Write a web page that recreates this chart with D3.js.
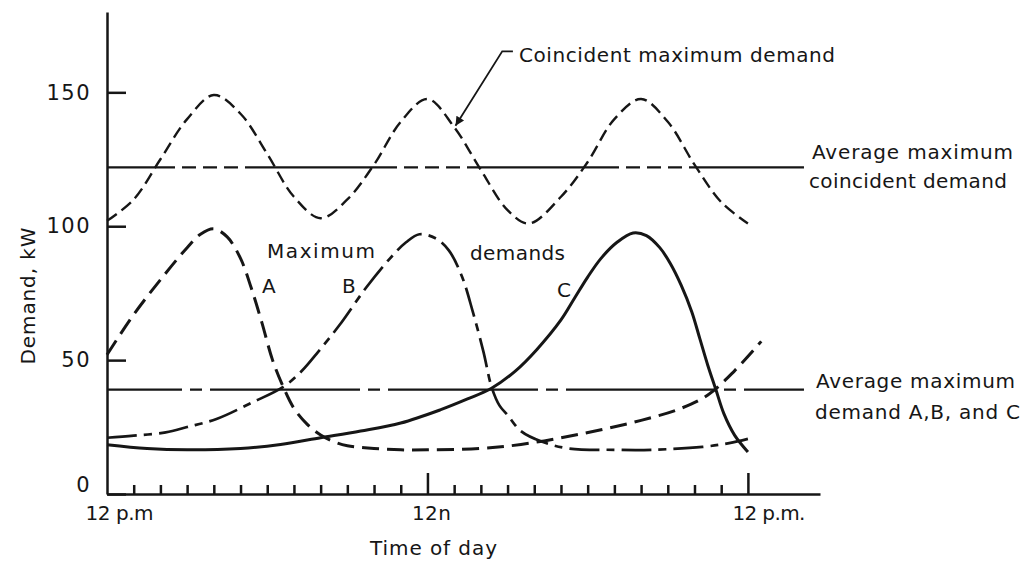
<!DOCTYPE html>
<html>
<head>
<meta charset="utf-8">
<script src="https://cdn.jsdelivr.net/npm/d3@7"></script>
<style>
  body { margin: 0; background: #fff; }
  text { font-family: "DejaVu Sans", sans-serif; fill: #161616; }
  .axis path, .axis line { stroke: #161616; stroke-width: 2.5; }
</style>
</head>
<body>
<div class="chart"></div>
<script>
// hours after 12 p.m. (0..24), demand in kW
const coincidentDemand = [[0,102],[1,110],[2,125],[3,140],[4,149],[5,142],[6,127],[7,111],[8,103],[9,110],[10,123],[11,139],[12,147.5],[13,137],[14,121],[15,106],[15.8,101],[17,111],[18,124],[19,140],[20,147.5],[21,139],[22,123],[23,109],[24,101]];
const demandA = [[0,52],[1,67],[2,80],[3,92],[3.5,97],[4,99],[4.5,96],[5,88],[5.4,77],[5.8,64],[6.2,50],[6.6,40],[7,32],[7.5,26],[8,22],[8.5,19.5],[9,18],[10,17],[11,16.5],[12,16.5],[14,17],[15.5,18.5],[17,21],[18.5,24],[20,27.5],[21.5,32],[22.5,37],[23.5,46],[24.5,57]];
const demandB = [[0,21],[1,21.8],[2.2,23],[3,25],[4.1,28],[5.4,34],[6.6,40],[7.3,46],[7.9,53],[8.7,63],[9.7,77],[10.6,88],[11.2,94],[11.7,97],[12.3,95.5],[12.8,91],[13.3,81],[13.7,68],[14.1,53],[14.4,40],[14.7,33],[15,29.5],[15.5,23.5],[16.3,19.5],[17.3,17],[19,16.5],[20.4,16.5],[22.3,17.6],[23.3,19],[24,20.6]];
const demandC = [[0,18.4],[1.5,17],[3,16.5],[5,17],[6.5,18.5],[8,21],[9.5,23.5],[11,26.5],[12.5,31.5],[13.5,35.5],[14.4,39.5],[15.3,46],[16.1,54],[17,65],[17.5,73],[18,81],[18.5,88],[19.1,94],[19.7,97.5],[20.2,96.5],[20.7,92],[21.1,86],[21.5,78],[21.9,68],[22.2,58],[22.5,48],[22.8,39],[23.1,30],[23.5,22],[24,15.7]];

const avgCoincident = 122;
const avgIndividual = 39;
const avgLineEnd = 26.1;

const yTicks = [0, 50, 100, 150];
const majorHours = [0, 12, 24];
const timeLabels = ['12 p.m', '12n', '12 p.m.'];
const minorHours = [1,2,3,4,5,6,7,8,9,10,11,13,14,15,16,17,18,19,20,21,22,23];

const width = 1026, height = 563;

const svg = d3.select('.chart')
    .append('svg')
    .attr('width', width)
    .attr('height', height);

const xScale = d3.scaleLinear().domain([0, 26.7]).range([107, 820]);
const yScale = d3.scaleLinear().domain([0, 180]).range([494, 12]);

const line = d3.line()
    .x(d => xScale(d[0]))
    .y(d => yScale(d[1]))
    .curve(d3.curveCatmullRom.alpha(0.5));

// average lines
svg.append('line')
    .attr('x1', xScale(0)).attr('x2', xScale(avgLineEnd))
    .attr('y1', yScale(avgCoincident)).attr('y2', yScale(avgCoincident))
    .attr('stroke', '#161616').attr('stroke-width', 2.2)
    .attr('stroke-dasharray', '152,7,14,7,14,7,14,7')
    .attr('stroke-dashoffset', 84);

svg.append('line')
    .attr('x1', xScale(0)).attr('x2', xScale(avgLineEnd))
    .attr('y1', yScale(avgIndividual)).attr('y2', yScale(avgIndividual))
    .attr('stroke', '#161616').attr('stroke-width', 2.2)
    .attr('stroke-dasharray', '150,8,12,8')
    .attr('stroke-dashoffset', 75);

// demand curves
const series = [
    {data: coincidentDemand, dash: '12,6', w: 2.4},
    {data: demandA, dash: '17,8', w: 3},
    {data: demandB, dash: '30,7,8,7', w: 2.7},
    {data: demandC, dash: null, w: 3}
];

svg.selectAll()
    .data(series)
    .enter()
    .append('path')
    .attr('d', d => line(d.data))
    .attr('fill', 'none')
    .attr('stroke', '#161616')
    .attr('stroke-width', d => d.w)
    .attr('stroke-dasharray', d => d.dash);

// axes
const yAxis = d3.axisLeft(yScale)
    .tickValues(yTicks)
    .tickSize(-19)
    .tickSizeOuter(0)
    .tickPadding(16);

const gy = svg.append('g')
    .attr('class', 'axis y-axis')
    .attr('transform', `translate(${xScale(0)},0)`)
    .call(yAxis);
gy.selectAll('text')
    .attr('font-size', 21)
    .attr('font-family', '"DejaVu Sans", sans-serif')
    .attr('letter-spacing', 1.5)
    .attr('fill', '#161616');
gy.selectAll('.tick').filter(d => d === 0).select('text').attr('dy', '-0.12em');

const xMinor = d3.axisBottom(xScale)
    .tickValues(minorHours)
    .tickSize(-9)
    .tickFormat('');

svg.append('g')
    .attr('class', 'axis x-minor')
    .attr('transform', `translate(0,${yScale(0)})`)
    .call(xMinor)
    .select('.domain').remove();

const xAxis = d3.axisBottom(xScale)
    .tickValues(majorHours)
    .tickSize(-21)
    .tickSizeOuter(0)
    .tickPadding(12)
    .tickFormat((d, i) => timeLabels[i]);

const gx = svg.append('g')
    .attr('class', 'axis x-axis')
    .attr('transform', `translate(0,${yScale(0)})`)
    .call(xAxis);
gx.selectAll('.tick').filter(d => d === 0).select('line').remove();
gx.selectAll('text')
    .attr('font-size', 20)
    .attr('font-family', '"DejaVu Sans", sans-serif')
    .attr('fill', '#161616')
    .attr('text-anchor', 'start')
    .attr('dx', (d, i) => i === 0 ? -22 : -16)
    .attr('textLength', (d, i) => [68, 39, 73][i])
    .attr('lengthAdjust', 'spacing');

// leader arrow to the coincident curve
svg.append('defs').append('marker')
    .attr('id', 'arrow')
    .attr('viewBox', '0 0 10 10')
    .attr('refX', 10).attr('refY', 5)
    .attr('markerWidth', 13).attr('markerHeight', 9)
    .attr('markerUnits', 'userSpaceOnUse')
    .attr('orient', 'auto')
    .append('path')
    .attr('d', 'M0,0L10,5L0,10Z')
    .attr('fill', '#161616');

svg.append('path')
    .attr('d', d3.line()([
        [xScale(15.2), yScale(165.3)],
        [xScale(14.8), yScale(165.3)],
        [xScale(13.05), yScale(137.5)]
    ]))
    .attr('fill', 'none')
    .attr('stroke', '#161616')
    .attr('stroke-width', 1.8)
    .attr('marker-end', 'url(#arrow)');

// annotations
const labels = [
    {t: 'Coincident maximum demand', x: 519, y: 62, len: 316},
    {t: 'Average maximum', x: 812, y: 159, len: 201},
    {t: 'coincident demand', x: 809, y: 188, len: 198},
    {t: 'Average maximum', x: 816, y: 388, len: 199},
    {t: 'demand A,B, and C', x: 815, y: 419, len: 205},
    {t: 'Maximum', x: 267, y: 258, len: 108},
    {t: 'demands', x: 470, y: 260, len: 95},
    {t: 'A', x: 262, y: 293, len: null},
    {t: 'B', x: 342, y: 293, len: null},
    {t: 'C', x: 557, y: 297, len: null},
    {t: 'Time of day', x: 370, y: 555, len: 127}
];

svg.selectAll()
    .data(labels)
    .enter()
    .append('text')
    .attr('x', d => d.x)
    .attr('y', d => d.y)
    .attr('font-size', 20)
    .attr('textLength', d => d.len)
    .attr('lengthAdjust', 'spacing')
    .text(d => d.t);

svg.append('text')
    .attr('transform', 'translate(35,296) rotate(-90)')
    .attr('text-anchor', 'middle')
    .attr('font-size', 20)
    .attr('textLength', 137)
    .attr('lengthAdjust', 'spacing')
    .text('Demand, kW');
</script>
</body>
</html>
